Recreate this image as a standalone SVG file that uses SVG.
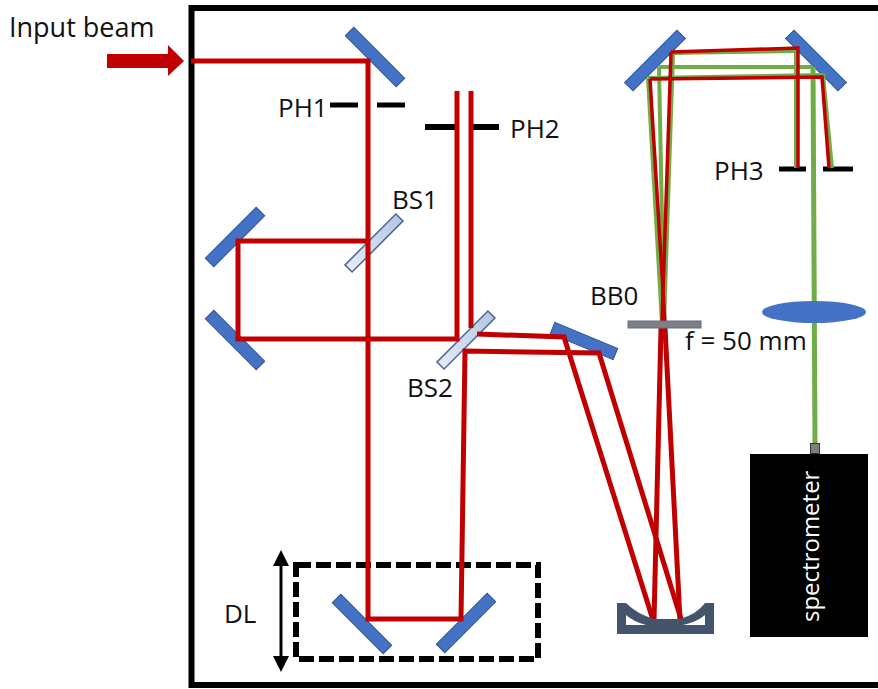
<svg xmlns="http://www.w3.org/2000/svg" width="878" height="689" viewBox="0 0 878 689">
<style>
text{font-family:"Open Sans","Noto Sans","Liberation Sans",sans-serif;font-size:26px;fill:#111}
.r{fill:none;stroke:#c00000;stroke-width:5;stroke-linejoin:miter}
.t{fill:none;stroke:#c00000;stroke-width:3.500}
.g{fill:none;stroke:#70ad47;stroke-width:4}
.m{fill:#4472c4;stroke:#2f5597;stroke-width:1}
.b{fill:url(#bsg);stroke:#4a6590;stroke-width:1.500}
.k{stroke:#000;stroke-width:5;fill:none}
</style>
<defs><linearGradient id="bsg"><stop offset="0" stop-color="#e4ebf6"/><stop offset="1" stop-color="#b5c7e6"/></linearGradient></defs>
<rect id="frame" x="191.500" y="8" width="692" height="677" fill="none" stroke="#000" stroke-width="6"/>
<g id="mirror-1"><rect class="m" x="-36" y="-6" width="72" height="12" transform="translate(375 57) rotate(45)"/></g>
<g id="mirror-2"><rect class="m" x="-36" y="-6" width="72" height="12" transform="translate(235 237) rotate(-45)"/></g>
<g id="mirror-3"><rect class="m" x="-36" y="-6" width="72" height="12" transform="translate(235 340) rotate(45)"/></g>
<g id="mirror-4"><rect class="m" x="-36" y="-6" width="72" height="12" transform="translate(362 624) rotate(45)"/></g>
<g id="mirror-5"><rect class="m" x="-36" y="-6" width="72" height="12" transform="translate(466 623) rotate(-45)"/></g>
<g id="mirror-6"><rect class="m" x="-34" y="-6" width="68" height="12" transform="translate(584 341) rotate(22.500)"/></g>
<g id="mirror-7"><rect class="m" x="-37" y="-6" width="74" height="12" transform="translate(655 60.500) rotate(-45)"/></g>
<g id="mirror-8"><rect class="m" x="-37" y="-6" width="74" height="12" transform="translate(816 60.500) rotate(45)"/></g>
<g id="bs1"><rect class="b" x="-36" y="-5" width="72" height="10" transform="translate(374 243) rotate(-45)"/><text x="392" y="209">BS1</text></g>
<g id="bs2"><rect class="b" x="-36" y="-5" width="72" height="10" transform="translate(466 340) rotate(-45)"/><text x="407" y="397">BS2</text></g>
<g id="ph1"><path class="k" d="M330 105H358M377 105H405"/><text x="278" y="117">PH1</text></g>
<g id="ph2"><path class="k" style="stroke-width:6" d="M425 127H455M473 127H499"/><text x="510" y="138">PH2</text></g>
<g id="ph3"><path class="k" d="M779 169H806M823 169H853"/><text x="714" y="180">PH3</text></g>
<g id="input-label"><text x="9" y="37" style="font-size:27px">Input beam</text></g>
<g id="dl"><rect x="296" y="565" width="242" height="94" fill="none" stroke="#000" stroke-width="6" stroke-dasharray="15 5"/><path d="M281 560V662" stroke="#000" stroke-width="3"/><path d="M281 550L289 566H273ZM281 672L289 656H273Z" fill="#000"/><text x="224" y="623">DL</text></g>
<g id="connectors">
<path class="r" d="M191 61H368V619H461L465 351L599 353L681 619"/>
<path class="r" d="M368 241H238V339H457V91"/>
<path class="r" d="M471 91V328"/>
<path class="r" d="M477 334L564 337L653 620"/>
<path class="g" d="M796 52V168"/>
<path class="g" d="M673 53L664 323"/>
<path class="g" d="M659 67H813"/>
<path class="g" style="stroke-width:5" d="M813 67L815 444"/>
<path class="g" d="M659 67L664 323"/>
<path class="g" d="M648 78L823 75L832 168"/>
<path class="g" d="M648 78L662 323"/>
<path class="g" d="M672 53L797 51"/>
<path class="t" d="M671 52L798 48V168"/>
<path class="t" d="M671 52L662 323"/>
<path class="t" d="M650 79L822 77L829 168"/>
<path class="t" d="M650 79L665 323"/>
<path class="r" d="M661 328L654 620"/>
<path class="r" d="M665 328L680 620"/>
</g>
<g id="input-arrow"><path d="M107 54H168V45L184 61L168 76V68H107Z" fill="#c00000"/></g>
<g id="bb0"><rect x="628" y="321" width="73" height="7" fill="#7f7f7f" stroke="#5b6f8f"/><text x="590" y="305">BB0</text></g>
<g id="lens"><ellipse cx="814" cy="312" rx="52" ry="11" fill="#4472c4"/><text x="685" y="350">f = 50 mm</text></g>
<g id="spectrometer"><rect x="810.500" y="443.500" width="9" height="10" fill="#7f7f7f" stroke="#333"/><rect x="750" y="454" width="118" height="183" fill="#000"/><text transform="translate(819 622) rotate(-90)" style="fill:#fff;font-size:24px">spectrometer</text></g>
<g id="curved-mirror"><path d="M617 603H626Q637 614 654 619H680Q697 614 705 603H714V634H617ZM626 615V625H646Q634 622 626 615ZM705 615Q697 622 683 625H705Z" fill="#44546a" fill-rule="evenodd"/></g>
</svg>
